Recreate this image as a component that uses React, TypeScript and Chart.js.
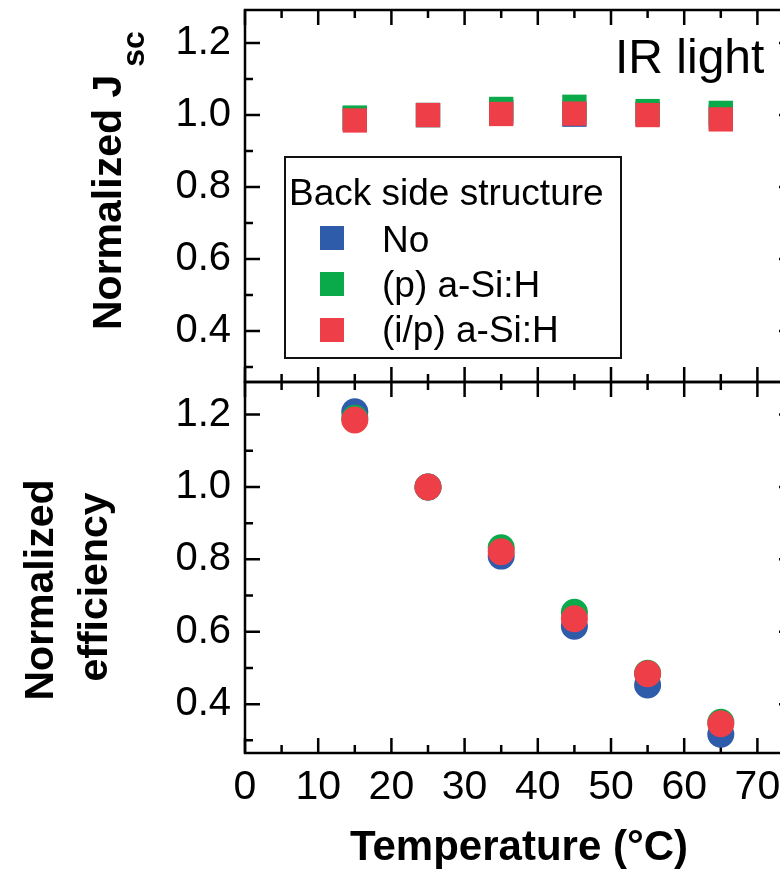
import React, { useEffect, useRef } from "react";
import { Chart, registerables } from "chart.js";

Chart.register(...registerables);

// ---- data ----
const temps = [15, 25, 35, 45, 55, 65];
const seriesNames = ["No", "(p) a-Si:H", "(i/p) a-Si:H"];
const seriesColors = ["#2E5BAA", "#0AAA4A", "#EE3E48"];

const jscNo = [0.99, 1.0, 1.008, 1.001, 1.003, 0.995];
const jscP = [0.993, 1.0, 1.017, 1.023, 1.011, 1.006];
const jscIP = [0.985, 1.0, 1.003, 1.004, 1.0, 0.988];

const effNo = [1.208, 1.0, 0.809, 0.615, 0.453, 0.317];
const effP = [1.19, 1.0, 0.832, 0.654, 0.485, 0.35];
const effIP = [1.185, 1.0, 0.821, 0.636, 0.484, 0.346];

const xMajorTicks = [0, 10, 20, 30, 40, 50, 60, 70];
const xMinorTicks = [5, 15, 25, 35, 45, 55, 65];
const yMajorTicks = [0.4, 0.6, 0.8, 1.0, 1.2];
const yMinorTicks = [0.3, 0.5, 0.7, 0.9, 1.1];

const xRange = [0, 75];
const topYRange = [0.258, 1.292];
const botYRange = [0.265, 1.29];

const legendTitle = "Back side structure";
const annotation = "IR light";
const xTitle = "Temperature (°C)";

const FONT = "'Liberation Sans', Arial, Helvetica, sans-serif";

const framePlugin = {
  id: "frameTicks",
  beforeDatasetsDraw(chart: any) {
    const { ctx, chartArea: a, scales } = chart;
    const xs = scales.x;
    const ys = scales.y;
    ctx.save();
    ctx.strokeStyle = "#000";
    ctx.lineWidth = 2.5;
    ctx.beginPath();
    const seg = (x1: number, y1: number, x2: number, y2: number) => {
      ctx.moveTo(x1, y1);
      ctx.lineTo(x2, y2);
    };
    const doX = (vals: number[], len: number) => {
      vals.forEach((v) => {
        const p = xs.getPixelForValue(v);
        seg(p, a.bottom, p, a.bottom - len);
        seg(p, a.top, p, a.top + len);
      });
    };
    const doY = (vals: number[], len: number) => {
      vals.forEach((v) => {
        const p = ys.getPixelForValue(v);
        if (p < a.top || p > a.bottom) return;
        seg(a.left, p, a.left + len, p);
        seg(a.right, p, a.right - len, p);
      });
    };
    doX(xMajorTicks, 15);
    doX(xMinorTicks, 8);
    doY(yMajorTicks, 15);
    doY(yMinorTicks, 8);
    ctx.stroke();
    ctx.strokeRect(a.left, a.top, a.width, a.height);
    ctx.restore();
  },
};

const topDecor = {
  id: "topDecor",
  afterDraw(chart: any) {
    const { ctx } = chart;
    ctx.save();
    ctx.fillStyle = "#000";
    // y title with subscript
    ctx.translate(121, 330);
    ctx.rotate(-Math.PI / 2);
    ctx.font = `bold 41px ${FONT}`;
    ctx.textAlign = "left";
    ctx.textBaseline = "alphabetic";
    const main = "Normalized J";
    ctx.fillText(main, 0, 0);
    const w = ctx.measureText(main).width;
    ctx.font = `bold 32px ${FONT}`;
    ctx.fillText("sc", w + 8, 23);
    ctx.restore();

    // annotation
    ctx.save();
    ctx.fillStyle = "#000";
    ctx.font = `48px ${FONT}`;
    ctx.textAlign = "left";
    ctx.textBaseline = "alphabetic";
    ctx.fillText(annotation, 615, 73);
    ctx.restore();

    // legend
    ctx.save();
    ctx.fillStyle = "#fff";
    ctx.fillRect(285, 157, 336, 201);
    ctx.strokeStyle = "#111";
    ctx.lineWidth = 2;
    ctx.strokeRect(285, 157, 336, 201);
    ctx.fillStyle = "#000";
    ctx.font = `37px ${FONT}`;
    ctx.textAlign = "left";
    ctx.textBaseline = "alphabetic";
    ctx.fillText(legendTitle, 289, 205);
    seriesNames.forEach((name, i) => {
      const cy = 238 + i * 46;
      ctx.fillStyle = seriesColors[i];
      ctx.fillRect(320, cy - 12, 24, 24);
      ctx.fillStyle = "#000";
      ctx.fillText(name, 382, 252 + i * 45);
    });
    ctx.restore();
  },
};

const botDecor = {
  id: "botDecor",
  afterDraw(chart: any) {
    const { ctx } = chart;
    const top = 372; // canvas page offset
    ctx.save();
    ctx.fillStyle = "#000";
    ctx.font = `bold 41px ${FONT}`;
    ctx.textAlign = "center";
    ctx.textBaseline = "alphabetic";
    ctx.save();
    ctx.translate(53, 590 - top);
    ctx.rotate(-Math.PI / 2);
    ctx.fillText("Normalized", 0, 0);
    ctx.restore();
    ctx.save();
    ctx.translate(107, 587 - top);
    ctx.rotate(-Math.PI / 2);
    ctx.fillText("efficiency", 0, 0);
    ctx.restore();
    ctx.font = `bold 42px ${FONT}`;
    ctx.fillText(xTitle, 519, 860 - top);
    ctx.restore();
  },
};

function makeDatasets(series: number[][], style: string, radius: number) {
  return series.map((vals, i) => ({
    label: seriesNames[i],
    data: temps.map((t, j) => ({ x: t, y: vals[j] })),
    pointStyle: style,
    pointRadius: radius,
    pointHoverRadius: radius,
    pointBackgroundColor: seriesColors[i],
    pointBorderWidth: 0,
    borderWidth: 0,
    showLine: false,
    order: 3 - i,
  }));
}

const yTickCfg = (range: number[]) => ({
  type: "linear" as const,
  min: range[0],
  max: range[1],
  afterFit: (s: any) => {
    s.width = 245;
    s.paddingTop = 0;
    s.paddingBottom = 0;
  },
  afterBuildTicks: (s: any) => {
    s.ticks = yMajorTicks.map((v) => ({ value: v }));
  },
  grid: { display: false, drawTicks: false },
  border: { display: false },
  ticks: {
    padding: 14,
    color: "#000",
    font: { family: FONT, size: 40 },
    callback: (v: any) => Number(v).toFixed(1),
  },
});

export default function App() {
  const topRef = useRef<HTMLCanvasElement>(null);
  const botRef = useRef<HTMLCanvasElement>(null);

  useEffect(() => {
    const topChart = new Chart(topRef.current as HTMLCanvasElement, {
      type: "scatter",
      data: { datasets: makeDatasets([jscNo, jscP, jscIP], "rect", 17.2) as any },
      options: {
        animation: false,
        responsive: false,
        events: [],
        layout: { autoPadding: false, padding: { top: 10, bottom: 10, left: 0, right: 36 } },
        plugins: { legend: { display: false }, tooltip: { enabled: false } },
        scales: {
          x: { type: "linear", min: xRange[0], max: xRange[1], display: false },
          y: yTickCfg(topYRange) as any,
        },
      },
      plugins: [framePlugin, topDecor],
    });

    const botChart = new Chart(botRef.current as HTMLCanvasElement, {
      type: "scatter",
      data: { datasets: makeDatasets([effNo, effP, effIP], "circle", 13.5) as any },
      options: {
        animation: false,
        responsive: false,
        events: [],
        layout: { autoPadding: false, padding: { top: 10, bottom: 0, left: 0, right: 36 } },
        plugins: { legend: { display: false }, tooltip: { enabled: false } },
        scales: {
          x: {
            type: "linear",
            min: xRange[0],
            max: xRange[1],
            afterFit: (s: any) => {
              s.height = 117;
              s.paddingLeft = 0;
              s.paddingRight = 0;
            },
            afterBuildTicks: (s: any) => {
              s.ticks = xMajorTicks.map((v) => ({ value: v }));
            },
            grid: { display: false, drawTicks: false },
            border: { display: false },
            ticks: {
              padding: 10,
              color: "#000",
              autoSkip: false,
              maxRotation: 0,
              font: { family: FONT, size: 41 },
              callback: (v: any) => String(v),
            },
          },
          y: yTickCfg(botYRange) as any,
        },
      },
      plugins: [framePlugin, botDecor],
    });

    return () => {
      topChart.destroy();
      botChart.destroy();
    };
  }, []);

  return (
    <div
      style={{
        position: "fixed",
        left: 0,
        top: 0,
        width: 780,
        height: 870,
        overflow: "hidden",
        background: "#fff",
      }}
    >
      <canvas
        ref={topRef}
        width={830}
        height={392}
        style={{ position: "absolute", left: 0, top: 0, display: "block" }}
      />
      <canvas
        ref={botRef}
        width={830}
        height={498}
        style={{ position: "absolute", left: 0, top: 372, display: "block" }}
      />
    </div>
  );
}
